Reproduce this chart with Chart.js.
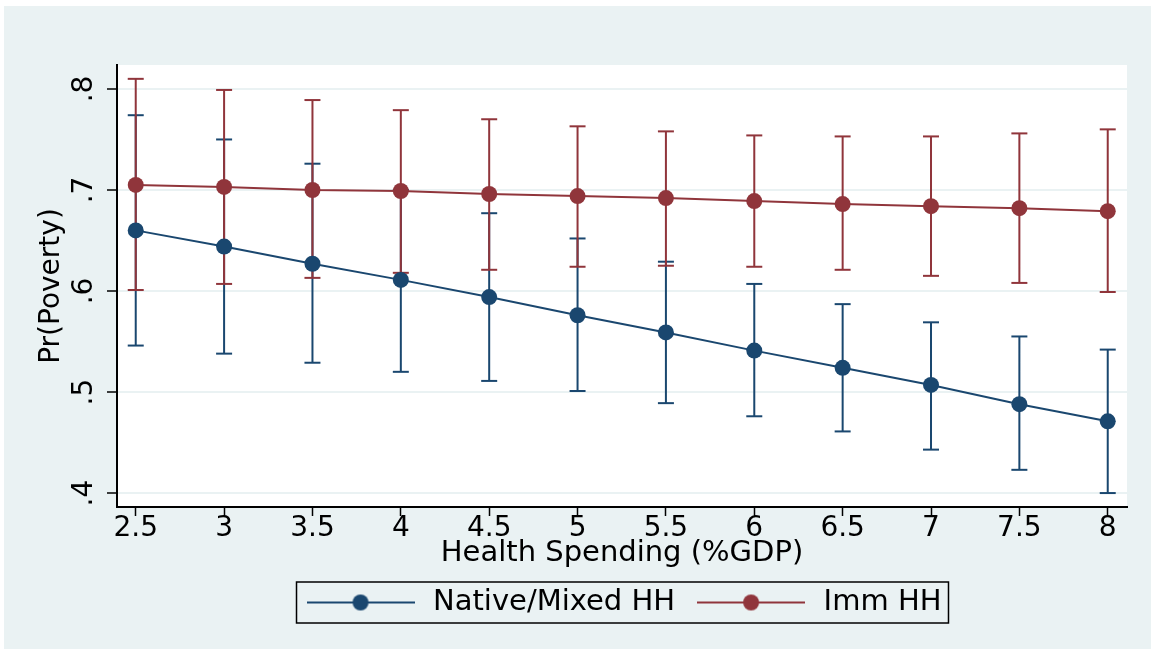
<!DOCTYPE html>
<html>
<head>
<meta charset="utf-8">
<script src="https://cdn.jsdelivr.net/npm/chart.js@4.4.1/dist/chart.umd.min.js"></script>
<style>
  body { margin: 0; background: #fff; }
  #wrap { position: absolute; left: 4px; top: 6px; width: 1147px; height: 643px; background: #eaf2f3; }
</style>
</head>
<body>
<div id="wrap"><canvas id="myChart" width="1147" height="643"></canvas></div>
<script>
// data
const xVals = [2.5, 3, 3.5, 4, 4.5, 5, 5.5, 6, 6.5, 7, 7.5, 8];
const xTickLabels = ['2.5', '3', '3.5', '4', '4.5', '5', '5.5', '6', '6.5', '7', '7.5', '8'];
const yTicks = [0.4, 0.5, 0.6, 0.7, 0.8];
const yTickLabels = ['.4', '.5', '.6', '.7', '.8'];

const nativeMean = [0.660, 0.644, 0.627, 0.611, 0.594, 0.576, 0.559, 0.541, 0.524, 0.507, 0.488, 0.471];
const nativeLow  = [0.546, 0.538, 0.529, 0.520, 0.511, 0.501, 0.489, 0.476, 0.461, 0.443, 0.423, 0.400];
const nativeHigh = [0.774, 0.750, 0.726, 0.700, 0.677, 0.652, 0.629, 0.607, 0.587, 0.569, 0.555, 0.542];

const immMean = [0.705, 0.703, 0.700, 0.699, 0.696, 0.694, 0.692, 0.689, 0.686, 0.684, 0.682, 0.679];
const immLow  = [0.601, 0.607, 0.613, 0.618, 0.621, 0.624, 0.625, 0.624, 0.621, 0.615, 0.608, 0.599];
const immHigh = [0.810, 0.799, 0.789, 0.779, 0.770, 0.763, 0.758, 0.754, 0.753, 0.753, 0.756, 0.760];

const seriesNames = ['Native/Mixed HH', 'Imm HH'];

const blue = '#1a476f';
const red = '#90353b';
const font = "'DejaVu Sans', sans-serif";

Chart.defaults.font.family = font;
Chart.defaults.color = '#000';

// helpers
function points(ys) {
  return xVals.map((x, i) => ({x: x, y: ys[i]}));
}
function bars(lo, hi) {
  let out = [];
  xVals.forEach((x, i) => {
    out.push({x: x, y: lo[i]});
    out.push({x: x, y: hi[i]});
    out.push({x: x, y: null});
  });
  return out;
}
function caps(lo, hi) {
  return points(lo).concat(points(hi));
}
// legend symbol: line with a dot in the middle
function legendIcon(color) {
  const c = document.createElement('canvas');
  c.width = 108; c.height = 20;
  const g = c.getContext('2d');
  g.strokeStyle = color; g.lineWidth = 2;
  g.beginPath(); g.moveTo(0, 10); g.lineTo(108, 10); g.stroke();
  g.fillStyle = color;
  g.beginPath(); g.arc(54, 10, 8, 0, Math.PI * 2); g.fill();
  return c;
}
const icons = [legendIcon(blue), legendIcon(red)];

const plotBox = {
  id: 'plotBox',
  beforeDraw(chart) {
    const {ctx, chartArea: a} = chart;
    ctx.save();
    ctx.fillStyle = '#fff';
    ctx.fillRect(a.left, a.top, a.right - a.left, a.bottom - a.top);
    ctx.restore();
  },
  afterDraw(chart) {
    const hb = chart.legend.legendHitBoxes;
    if (!hb || !hb.length) return;
    const left = Math.min(...hb.map(h => h.left)) - 6;
    const right = Math.max(...hb.map(h => h.left + h.width)) + 7;
    const top = hb[0].top - 6;
    const bottom = hb[0].top + hb[0].height + 6;
    const ctx = chart.ctx;
    ctx.save();
    ctx.strokeStyle = '#000';
    ctx.lineWidth = 1.5;
    ctx.strokeRect(left, top, right - left, bottom - top);
    ctx.restore();
  }
};

const ctx = document.getElementById('myChart');

new Chart(ctx, {
  type: 'scatter',
  data: {
    datasets: [
      {
        label: seriesNames[0],
        data: points(nativeMean),
        showLine: true,
        borderColor: blue,
        backgroundColor: blue,
        borderWidth: 2,
        pointRadius: 8,
        pointBorderWidth: 0,
        order: 1
      },
      {
        label: seriesNames[1],
        data: points(immMean),
        showLine: true,
        borderColor: red,
        backgroundColor: red,
        borderWidth: 2,
        pointRadius: 8,
        pointBorderWidth: 0,
        order: 0
      },
      {
        label: 'native ci',
        data: bars(nativeLow, nativeHigh),
        showLine: true,
        spanGaps: false,
        borderColor: blue,
        borderWidth: 2,
        pointRadius: 0,
        order: 6
      },
      {
        label: 'native caps',
        data: caps(nativeLow, nativeHigh),
        pointStyle: 'line',
        pointRadius: 8,
        borderColor: blue,
        pointBorderWidth: 2,
        order: 5
      },
      {
        label: 'imm ci',
        data: bars(immLow, immHigh),
        showLine: true,
        spanGaps: false,
        borderColor: red,
        borderWidth: 2,
        pointRadius: 0,
        order: 4
      },
      {
        label: 'imm caps',
        data: caps(immLow, immHigh),
        pointStyle: 'line',
        pointRadius: 8,
        borderColor: red,
        pointBorderWidth: 2,
        order: 3
      }
    ]
  },
  options: {
    responsive: false,
    animation: false,
    events: [],
    layout: {
      padding: {left: 0, right: 24, top: 59, bottom: 22}
    },
    scales: {
      x: {
        type: 'linear',
        min: 2.394,
        max: 8.109,
        afterBuildTicks: s => { s.ticks = xVals.map(v => ({value: v})); },
        afterFit: s => { s.height = 63; },
        ticks: {
          callback: (v, i) => xTickLabels[i],
          font: {size: 28, lineHeight: 1},
          padding: -1,
          maxRotation: 0,
          autoSkip: false
        },
        grid: {
          drawOnChartArea: false,
          tickLength: 9,
          tickColor: '#000',
          tickWidth: 1.5
        },
        border: {color: '#000', width: 2},
        title: {
          display: true,
          text: 'Health Spending (%GDP)',
          font: {size: 29, lineHeight: 1},
          padding: {top: 0, bottom: 2}
        }
      },
      y: {
        min: 0.3862,
        max: 0.8237,
        afterBuildTicks: s => { s.ticks = yTicks.map(v => ({value: v})); },
        afterFit: s => { s.width = 113; },
        ticks: {
          callback: (v, i) => yTickLabels[i],
          font: {size: 28, lineHeight: 1},
          minRotation: 90,
          maxRotation: 90,
          crossAlign: 'center',
          padding: 9
        },
        grid: {
          color: '#eaf2f3',
          lineWidth: 2,
          tickLength: 10,
          tickColor: '#000',
          tickWidth: 1.5
        },
        border: {color: '#000', width: 2},
        title: {
          display: true,
          text: 'Pr(Poverty)',
          font: {size: 28, lineHeight: 1},
          padding: {top: 34, bottom: 0}
        }
      }
    },
    plugins: {
      tooltip: {enabled: false},
      legend: {
        position: 'bottom',
        fullSize: false,
        labels: {
          usePointStyle: true,
          pointStyleWidth: 116,
          padding: 18,
          color: '#000',
          font: {size: 29},
          generateLabels: chart => {
            const items = Chart.defaults.plugins.legend.labels.generateLabels(chart);
            return items
              .filter(it => it.datasetIndex < 2)
              .sort((a, b) => a.datasetIndex - b.datasetIndex)
              .map(it => {
                it.pointStyle = icons[it.datasetIndex];
                return it;
              });
          }
        }
      }
    }
  },
  plugins: [plotBox]
});
</script>
</body>
</html>
